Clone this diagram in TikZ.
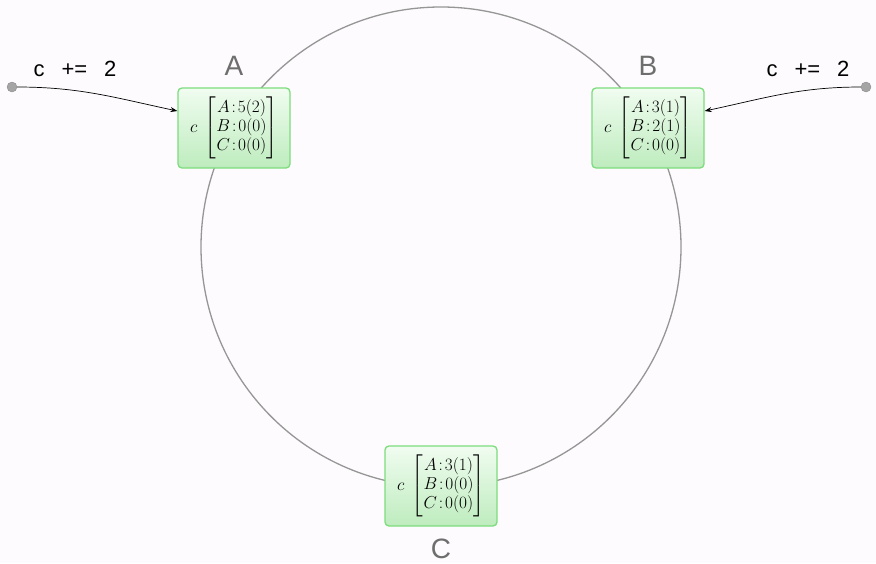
\documentclass[tikz,border=0pt]{standalone}
\usepackage{amsmath}
\usepackage{fontspec}
\newfontfamily\labfont{Liberation Sans}
\usetikzlibrary{arrows.meta}
\definecolor{bgc}{RGB}{253,251,253}
\definecolor{boxtop}{RGB}{240,252,240}
\definecolor{boxbot}{RGB}{190,236,190}
\definecolor{boxedge}{RGB}{125,220,125}
\definecolor{ringc}{RGB}{150,150,150}
\definecolor{labc}{RGB}{110,110,110}
\definecolor{dotc}{RGB}{165,165,165}
\tikzset{
  vbox/.style={draw=boxedge, line width=1.3pt, rounded corners=4pt, top color=boxtop, bottom color=boxbot, minimum width=112pt, minimum height=80pt, inner sep=0pt},
  nlabel/.style={text=labc, font=\labfont\fontsize{28}{30}\selectfont, anchor=base, inner sep=0pt},
  oplabel/.style={text=black, font=\labfont\fontsize{22}{24}\selectfont, anchor=base, inner sep=0pt},
  srcdot/.style={circle, fill=dotc, draw=dotc!80!black, line width=0.3pt, minimum size=10pt, inner sep=0pt},
  incr/.style={-{Stealth[length=7pt,width=5pt]}, line width=0.7pt, black}
}
\newcommand{\cln}{\mkern2mu{:}\mkern2mu}
\newcommand{\vc}[3]{{\fontsize{16.5}{19}\selectfont$c\;\begin{bmatrix}A\cln#1\\B\cln#2\\C\cln#3\end{bmatrix}$}}
\newcommand{\opstr}{c\hspace{17pt}+=\hspace{17pt}2}
\begin{document}
\begin{tikzpicture}[x=1pt,y=-1pt]
\fill[bgc] (0,0) rectangle (876,563);
\useasboundingbox (0,0) rectangle (876,563);
\node[draw=ringc, line width=1.3pt, circle, minimum size=480pt, inner sep=0pt] (ring) at (441,247) {};
\node[vbox] (A) at (234,128) {\vc{5(2)}{0(0)}{0(0)}};
\node[vbox] (B) at (648,128) {\vc{3(1)}{2(1)}{0(0)}};
\node[vbox] (C) at (441,486) {\vc{3(1)}{0(0)}{0(0)}};
\node[nlabel] (la) at (234,75) {A};
\node[nlabel] (lb) at (648,75) {B};
\node[nlabel] (lc) at (441,558) {C};
\node[srcdot] (sa) at (12,87) {};
\node[srcdot] (sb) at (866,87) {};
\node[oplabel] (opa) at (75,76) {\opstr};
\node[oplabel] (opb) at (808,76) {\opstr};
\draw[incr] (sa.east) to[out=0, in=168] ([yshift=17pt]A.west);
\draw[incr] (sb.west) to[out=180, in=12] ([yshift=17pt]B.east);
\end{tikzpicture}
\end{document}
